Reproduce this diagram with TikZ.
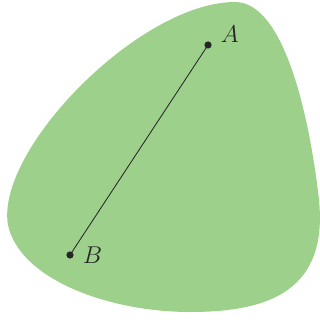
\documentclass[tikz,border=0pt]{standalone}
\usepackage{amsmath,amssymb}
\usepackage{tikz}
\usetikzlibrary{positioning}
\definecolor{setgreen}{HTML}{9DD08A}

\begin{document}
\begin{tikzpicture}[x=0.025cm, y=-0.025cm,
  pt/.style={circle, fill=black!85, inner sep=0pt, minimum size=1.8mm},
  ptlabel/.style={font=\LARGE, text=black!85}]
  \useasboundingbox (0,0) rectangle (320,320);
  % the set
  \fill[setgreen] (235,2) .. controls (285,2) and (310,120) .. (319,200)
    .. controls (328,290) and (270,312) .. (190,312)
    .. controls (110,312) and (20,280) .. (8,225)
    .. controls (-5,150) and (140,2) .. cycle;
  \node[pt] (A) at (208,45) {};
  \node[pt] (B) at (70,255) {};
  \node[ptlabel, right=1mm of A, yshift=2.7mm] (lA) {$A$};
  \node[ptlabel, right=1mm of B] (lB) {$B$};
  \draw[black!85, line width=0.6pt] (A.center) -- (B.center);
\end{tikzpicture}
\end{document}
